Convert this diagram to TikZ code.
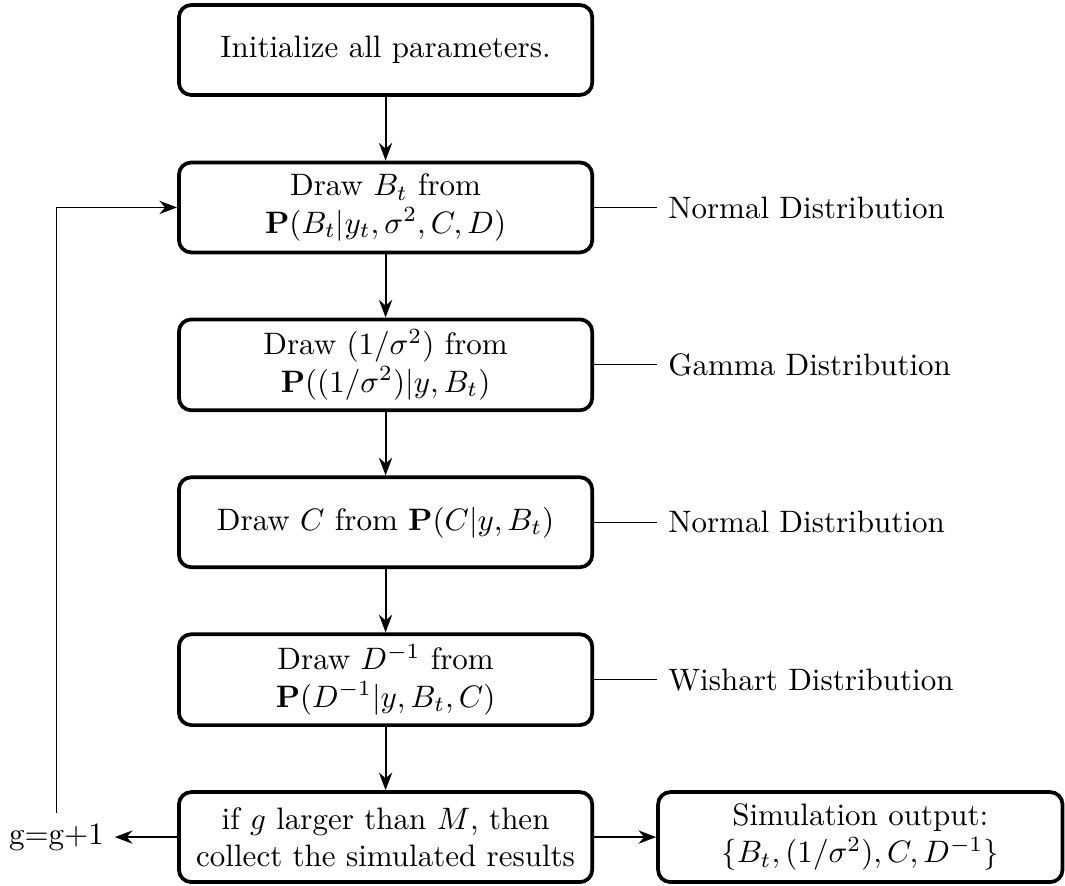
\documentclass[tikz,border=0pt]{standalone}
\usetikzlibrary{arrows.meta}

\begin{document}
\begin{tikzpicture}[
  stepbox/.style={draw,very thick,rounded corners,text width=4.45cm,align=center,minimum height=1.02cm},
  distlabel/.style={anchor=west},
  flow/.style={-Stealth,semithick}]

\useasboundingbox (-4.37,0.567) rectangle (7.70,-9.47);

% sampling steps
\node[stepbox] (init) at (0,0) {Initialize all parameters.};
\node[stepbox] (drawB) at (0,-1*1.784) {Draw $B_t$ from\\ $\mathbf{P}(B_t|y_t,\sigma^2,C,D)$};
\node[stepbox] (drawS) at (0,-2*1.784) {Draw $(1/\sigma^2)$ from\\ $\mathbf{P}((1/\sigma^2)|y,B_t)$};
\node[stepbox] (drawC) at (0,-3*1.784) {Draw $C$ from $\mathbf{P}(C|y,B_t)$};
\node[stepbox] (drawD) at (0,-4*1.784) {Draw $D^{-1}$ from\\ $\mathbf{P}(D^{-1}|y,B_t,C)$};
\node[stepbox] (check) at (0,-5*1.784) {if $g$ larger than $M$, then\\ collect the simulated results};

% output and counter
\node[stepbox,text width=4.35cm] (out) at (5.38,-5*1.784) {Simulation output:\\ $\{B_t,(1/\sigma^2),C,D^{-1}\}$};
\node (count) at (-3.73,-5*1.784) {g=g+1};

% distributions
\node[distlabel] (distB) at (3.08,-1*1.784) {Normal Distribution};
\node[distlabel] (distS) at (3.08,-2*1.784) {Gamma Distribution};
\node[distlabel] (distC) at (3.08,-3*1.784) {Normal Distribution};
\node[distlabel] (distD) at (3.08,-4*1.784) {Wishart Distribution};

% arrows
\draw[flow] (init) -- (drawB);
\draw[flow] (drawB) -- (drawS);
\draw[flow] (drawS) -- (drawC);
\draw[flow] (drawC) -- (drawD);
\draw[flow] (drawD) -- (check);
\draw[flow] (check) -- (out);
\draw[flow] (check) -- (count);
\draw[flow] (count) |- (drawB);

% lines to the distributions
\draw (drawB) -- (distB);
\draw (drawS) -- (distS);
\draw (drawC) -- (distC);
\draw (drawD) -- (distD);

\end{tikzpicture}
\end{document}
